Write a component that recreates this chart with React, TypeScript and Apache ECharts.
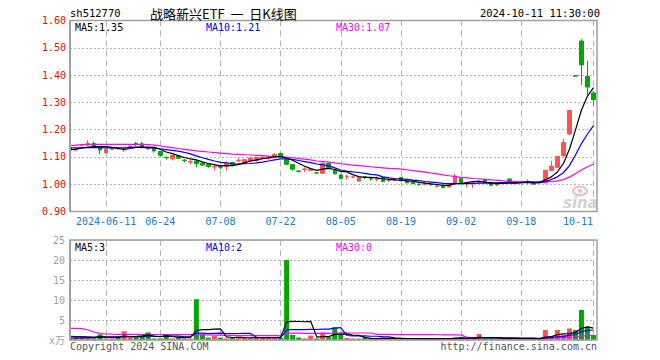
import React, { useEffect, useRef } from 'react';
import * as echarts from 'echarts';

const dates = [
  '2024-05-31',
  '2024-06-03', '2024-06-04', '2024-06-05', '2024-06-06', '2024-06-07',
  '2024-06-11', '2024-06-12', '2024-06-13', '2024-06-14',
  '2024-06-17', '2024-06-18', '2024-06-19', '2024-06-20', '2024-06-21',
  '2024-06-24', '2024-06-25', '2024-06-26', '2024-06-27', '2024-06-28',
  '2024-07-01', '2024-07-02', '2024-07-03', '2024-07-04', '2024-07-05',
  '2024-07-08', '2024-07-09', '2024-07-10', '2024-07-11', '2024-07-12',
  '2024-07-15', '2024-07-16', '2024-07-17', '2024-07-18', '2024-07-19',
  '2024-07-22', '2024-07-23', '2024-07-24', '2024-07-25', '2024-07-26',
  '2024-07-29', '2024-07-30', '2024-07-31', '2024-08-01', '2024-08-02',
  '2024-08-05', '2024-08-06', '2024-08-07', '2024-08-08', '2024-08-09',
  '2024-08-12', '2024-08-13', '2024-08-14', '2024-08-15', '2024-08-16',
  '2024-08-19', '2024-08-20', '2024-08-21', '2024-08-22', '2024-08-23',
  '2024-08-26', '2024-08-27', '2024-08-28', '2024-08-29', '2024-08-30',
  '2024-09-02', '2024-09-03', '2024-09-04', '2024-09-05', '2024-09-06',
  '2024-09-09', '2024-09-10', '2024-09-11', '2024-09-12', '2024-09-13',
  '2024-09-18', '2024-09-19', '2024-09-20',
  '2024-09-23', '2024-09-24', '2024-09-25', '2024-09-26', '2024-09-27',
  '2024-09-30',
  '2024-10-08', '2024-10-09', '2024-10-10', '2024-10-11',
];

const tickDates = ['2024-06-11', '2024-06-24', '2024-07-08', '2024-07-22', '2024-08-05', '2024-08-19', '2024-09-02', '2024-09-18', '2024-10-11'];

const opens = [
  1.135, 1.125, 1.143, 1.144, 1.15, 1.137, 1.115, 1.128, 1.132, 1.125,
  1.138, 1.15, 1.148, 1.131, 1.13, 1.12, 1.099, 1.093, 1.103, 1.088,
  1.081, 1.085, 1.078, 1.073, 1.063, 1.065, 1.065, 1.08, 1.086, 1.077,
  1.085, 1.086, 1.095, 1.094, 1.097, 1.113, 1.09, 1.072, 1.048, 1.054,
  1.05, 1.042, 1.04, 1.076, 1.052, 1.034, 1.027, 1.026, 1.011, 1.027,
  1.02, 1.018, 1.025, 1.014, 1.015, 1.025, 1.012, 1.008, 1.0, 1.0,
  1.0, 0.992, 0.996, 0.99, 1.007, 1.021, 1.005, 1.006, 1.005, 1.017,
  1.005, 1.0, 1.004, 1.019, 1.006, 1.007, 1.008, 1.002, 1.009, 1.005,
  1.05, 1.062, 1.105, 1.184, 1.398, 1.525, 1.395, 1.334,
];
const closes = [
  1.125, 1.13, 1.145, 1.15, 1.14, 1.125, 1.128, 1.13, 1.13, 1.128,
  1.14, 1.148, 1.135, 1.13, 1.122, 1.106, 1.097, 1.105, 1.095, 1.087,
  1.083, 1.075, 1.07, 1.065, 1.065, 1.062, 1.077, 1.072, 1.088, 1.09,
  1.096, 1.098, 1.099, 1.1, 1.11, 1.1, 1.073, 1.055, 1.047, 1.056,
  1.055, 1.041, 1.076, 1.06, 1.038, 1.02, 1.029, 1.027, 1.024, 1.026,
  1.019, 1.02, 1.01, 1.016, 1.017, 1.013, 1.005, 1.002, 0.999, 1.002,
  0.998, 0.994, 0.988, 1.0, 1.029, 1.006, 1.006, 1.008, 1.007, 1.008,
  0.996, 0.998, 1.006, 1.01, 1.008, 1.009, 1.01, 1.001, 1.007, 1.051,
  1.066, 1.102, 1.153, 1.27, 1.396, 1.437, 1.356, 1.31,
];
const lows = [
  1.12, 1.12, 1.14, 1.14, 1.134, 1.11, 1.113, 1.125, 1.127, 1.118,
  1.135, 1.14, 1.13, 1.127, 1.115, 1.1, 1.09, 1.087, 1.093, 1.08,
  1.072, 1.062, 1.067, 1.06, 1.05, 1.055, 1.05, 1.07, 1.08, 1.076,
  1.083, 1.083, 1.092, 1.09, 1.095, 1.098, 1.07, 1.05, 1.043, 1.045,
  1.047, 1.038, 1.038, 1.057, 1.036, 1.018, 1.016, 1.022, 1.01, 1.019,
  1.013, 1.01, 1.009, 1.008, 1.011, 1.012, 1.004, 1.001, 0.995, 0.995,
  0.995, 0.988, 0.985, 0.988, 1.005, 1.004, 0.988, 0.985, 1.002, 1.006,
  0.993, 0.994, 1.002, 1.008, 1.004, 1.003, 1.0, 0.998, 1.004, 1.003,
  1.048, 1.06, 1.1, 1.18, 1.396, 1.364, 1.328, 1.287,
];
const highs = [
  1.14, 1.135, 1.148, 1.161, 1.155, 1.14, 1.13, 1.133, 1.135, 1.13,
  1.142, 1.155, 1.155, 1.133, 1.13, 1.121, 1.1, 1.107, 1.105, 1.092,
  1.09, 1.086, 1.08, 1.075, 1.07, 1.07, 1.083, 1.082, 1.095, 1.092,
  1.1, 1.1, 1.102, 1.103, 1.112, 1.115, 1.093, 1.073, 1.052, 1.062,
  1.058, 1.045, 1.08, 1.078, 1.055, 1.036, 1.035, 1.03, 1.026, 1.03,
  1.023, 1.028, 1.027, 1.02, 1.02, 1.026, 1.013, 1.01, 1.002, 1.008,
  1.004, 0.996, 0.998, 1.002, 1.039, 1.022, 1.01, 1.012, 1.009, 1.018,
  1.006, 1.004, 1.008, 1.021, 1.01, 1.012, 1.018, 1.005, 1.012, 1.052,
  1.086, 1.104, 1.167, 1.273, 1.398, 1.531, 1.452, 1.34,
];

const ma5 = [
  1.127, 1.128, 1.133, 1.136, 1.138, 1.138, 1.138, 1.135, 1.131, 1.128,
  1.131, 1.135, 1.136, 1.136, 1.135, 1.128, 1.118, 1.112, 1.105, 1.098,
  1.093, 1.089, 1.082, 1.076, 1.072, 1.067, 1.068, 1.068, 1.073, 1.078,
  1.085, 1.089, 1.094, 1.097, 1.101, 1.101, 1.096, 1.088, 1.077, 1.066,
  1.057, 1.051, 1.055, 1.058, 1.054, 1.047, 1.045, 1.035, 1.028, 1.025,
  1.025, 1.023, 1.02, 1.018, 1.016, 1.015, 1.012, 1.011, 1.007, 1.004,
  1.001, 0.999, 0.996, 0.996, 1.002, 1.003, 1.006, 1.01, 1.011, 1.007,
  1.005, 1.003, 1.003, 1.004, 1.004, 1.006, 1.009, 1.008, 1.007, 1.016,
  1.027, 1.045, 1.076, 1.128, 1.198, 1.272, 1.323, 1.354,
];
const ma10 = [
  1.132, 1.133, 1.133, 1.134, 1.134, 1.134, 1.133, 1.133, 1.133, 1.133,
  1.135, 1.136, 1.135, 1.133, 1.132, 1.13, 1.127, 1.124, 1.121, 1.117,
  1.111, 1.104, 1.097, 1.091, 1.085, 1.08, 1.078, 1.075, 1.074, 1.075,
  1.076, 1.078, 1.081, 1.085, 1.089, 1.093, 1.093, 1.091, 1.087, 1.083,
  1.079, 1.074, 1.071, 1.067, 1.06, 1.052, 1.048, 1.045, 1.043, 1.04,
  1.036, 1.034, 1.027, 1.023, 1.021, 1.02, 1.018, 1.015, 1.013, 1.01,
  1.008, 1.006, 1.003, 1.002, 1.003, 1.002, 1.002, 1.003, 1.004, 1.004,
  1.004, 1.005, 1.006, 1.007, 1.005, 1.006, 1.006, 1.005, 1.005, 1.01,
  1.017, 1.027, 1.042, 1.068, 1.107, 1.149, 1.184, 1.215,
];
const ma30 = [
  1.141, 1.143, 1.145, 1.146, 1.146, 1.146, 1.146, 1.146, 1.146, 1.146,
  1.146, 1.146, 1.146, 1.145, 1.143, 1.14, 1.137, 1.134, 1.131, 1.128,
  1.125, 1.122, 1.12, 1.118, 1.116, 1.114, 1.112, 1.11, 1.109, 1.108,
  1.107, 1.106, 1.105, 1.103, 1.102, 1.101, 1.099, 1.097, 1.094, 1.092,
  1.089, 1.085, 1.083, 1.081, 1.078, 1.075, 1.073, 1.07, 1.068, 1.066,
  1.064, 1.062, 1.06, 1.058, 1.057, 1.055, 1.053, 1.05, 1.047, 1.044,
  1.041, 1.038, 1.034, 1.031, 1.028, 1.025, 1.023, 1.021, 1.02, 1.018,
  1.016, 1.015, 1.012, 1.011, 1.01, 1.009, 1.009, 1.008, 1.007, 1.008,
  1.01, 1.012, 1.017, 1.026, 1.038, 1.052, 1.064, 1.074,
];

const volumes = [
  0.4, 0.8, 0.6, 0.8, 0.4, 1.4, 0.4, 0.4, 0.6, 2.2,
  0.6, 0.8, 1.0, 1.9, 0.3, 0.4, 1.5, 0.4, 0.5, 0.4,
  0.4, 10.2, 1.4, 0.6, 1.0, 0.6, 0.4, 0.5, 0.8, 0.6,
  0.4, 0.6, 0.6, 0.8, 0.7, 0.5, 20.0, 1.3, 0.6, 0.4,
  1.1, 0.3, 1.7, 0.7, 3.2, 1.5, 0.5, 0.3, 0.3, 0.6,
  0.3, 0.3, 0.6, 0.35, 0.35, 0.4, 0.3, 0.3, 0.2, 0.4,
  0.3, 0.3, 0.3, 0.4, 0.7, 0.8, 0.3, 0.3, 1.5, 0.4,
  0.4, 0.3, 0.4, 0.4, 0.3, 0.3, 0.3, 0.2, 0.3, 2.5,
  1.0, 2.5, 1.25, 2.9, 2.5, 7.5, 3.3, 1.25,
];
const volMa5 = [
  0.5, 0.5, 0.55, 0.6, 0.6, 0.8, 0.72, 0.68, 0.64, 1.0,
  0.84, 0.92, 1.04, 1.3, 0.92, 0.88, 1.02, 0.9, 0.62, 0.64,
  0.64, 2.38, 2.58, 2.6, 2.72, 2.76, 0.8, 0.62, 0.66, 0.58,
  0.54, 0.58, 0.6, 0.6, 0.62, 0.64, 4.52, 4.66, 4.62, 4.56,
  4.68, 0.74, 0.82, 0.84, 1.4, 1.48, 1.52, 1.24, 1.16, 0.64,
  0.4, 0.36, 0.42, 0.43, 0.38, 0.4, 0.34, 0.33, 0.3, 0.3,
  0.3, 0.3, 0.32, 0.32, 0.4, 0.5, 0.5, 0.48, 0.64, 0.56,
  0.58, 0.58, 0.36, 0.36, 0.34, 0.34, 0.32, 0.28, 0.28, 0.72,
  0.86, 1.32, 1.51, 1.59, 1.89, 2.89, 3.3, 2.97,
];
const volMa10 = [
  0.9, 0.85, 0.85, 0.8, 0.75, 0.8, 0.8, 0.8, 0.8, 0.8,
  0.82, 0.82, 0.86, 0.97, 0.96, 0.86, 0.97, 0.97, 0.96, 0.78,
  0.76, 1.7, 1.74, 1.61, 1.68, 1.7, 1.59, 1.6, 1.63, 1.65,
  1.65, 0.69, 0.61, 0.63, 0.6, 0.59, 2.55, 2.63, 2.61, 2.59,
  2.66, 2.63, 2.74, 2.73, 2.98, 3.08, 1.13, 1.03, 1.0, 1.02,
  0.94, 0.94, 0.83, 0.8, 0.51, 0.4, 0.38, 0.38, 0.37, 0.35,
  0.35, 0.35, 0.32, 0.33, 0.36, 0.4, 0.4, 0.4, 0.53, 0.53,
  0.54, 0.54, 0.55, 0.55, 0.51, 0.46, 0.46, 0.45, 0.33, 0.54,
  0.6, 0.82, 0.91, 1.16, 1.38, 2.1, 2.4, 2.5,
];
const volMa30 = [
  2.9, 2.9, 2.85, 2.5, 2.0, 1.6, 1.5, 1.45, 1.42, 1.4,
  1.4, 1.4, 1.4, 1.4, 1.38, 1.38, 1.38, 1.36, 1.36, 1.35,
  1.35, 1.3, 1.28, 1.25, 1.22, 1.2, 1.15, 1.12, 1.1, 1.08,
  1.08, 1.07, 1.07, 1.07, 1.08, 1.05, 1.7, 1.73, 1.73, 1.67,
  1.69, 1.67, 1.7, 1.66, 1.75, 1.79, 1.76, 1.75, 1.75, 1.75,
  1.75, 1.42, 1.39, 1.39, 1.36, 1.36, 1.35, 1.35, 1.33, 1.32,
  1.32, 1.31, 1.3, 1.28, 1.28, 1.29, 0.64, 0.6, 0.63, 0.63,
  0.61, 0.61, 0.57, 0.56, 0.46, 0.42, 0.41, 0.41, 0.41, 0.47,
  0.5, 0.57, 0.59, 0.68, 0.75, 0.99, 1.09, 1.12,
];

const priceMin = 0.9;
const priceMax = 1.6;
const priceStep = 0.1;
const volMin = 0;
const volMax = 25;
const volStep = 5;

const UP = '#ff5252';
const DOWN = '#00a800';
const MONO = '"DejaVu Sans Mono", "Liberation Mono", monospace';
const GRID_C = '#b4b4b4';
const FRAME_C = '#a0a0a0';

export default function App() {
  const ref = useRef<HTMLDivElement>(null);

  useEffect(() => {
    if (!ref.current) return;
    const chart = echarts.init(ref.current, null, { renderer: 'svg' });

    const isTick = (_i: number, v: string) => tickDates.indexOf(v) >= 0;

    const option: any = {
      animation: false,
      backgroundColor: '#fff',
      grid: [
        { left: 70, top: 20.5, width: 523.5, height: 191 },
        { left: 70, top: 240, width: 523.5, height: 100 },
      ],
      xAxis: [
        {
          type: 'category', gridIndex: 0, data: dates, boundaryGap: false,
          axisLine: { show: false }, axisTick: { show: false },
          axisLabel: {
            interval: isTick, margin: 5, color: '#0a7fd6', fontFamily: MONO, fontSize: 10,
            formatter: (v: string) => v === tickDates[0] ? v : (v === tickDates[tickDates.length - 1] ? '{r|' + v.slice(5) + '}' : v.slice(5)),
            rich: { r: { padding: [0, 31, 0, 0], color: '#0a7fd6', fontFamily: MONO, fontSize: 10 } },
          },
          splitLine: { show: true, interval: isTick, lineStyle: { color: GRID_C, type: [6, 4], width: 1 } },
        },
        {
          type: 'category', gridIndex: 1, data: dates, boundaryGap: false,
          axisLine: { show: false }, axisTick: { show: false }, axisLabel: { show: false },
          splitLine: { show: true, interval: isTick, lineStyle: { color: GRID_C, type: [6, 4], width: 1 } },
        },
      ],
      yAxis: [
        {
          type: 'value', gridIndex: 0, min: priceMin, max: priceMax, interval: priceStep,
          axisLine: { show: false }, axisTick: { show: false },
          axisLabel: { margin: 4, color: '#ff0000', fontFamily: MONO, fontSize: 10, formatter: (v: number) => v.toFixed(2) },
          splitLine: { show: true, lineStyle: { color: GRID_C, type: [2, 2], width: 1 } },
        },
        {
          type: 'value', gridIndex: 1, min: volMin, max: volMax, interval: volStep,
          axisLine: { show: false }, axisTick: { show: false },
          axisLabel: { margin: 5, color: '#a0a0a0', fontFamily: MONO + ', "Noto Sans CJK SC"', fontSize: 10, formatter: (v: number) => (v === 0 ? 'x万' : String(v)) },
          splitLine: { show: true, lineStyle: { color: GRID_C, type: [2, 2], width: 1 } },
        },
      ],
      series: [
        {
          type: 'candlestick', xAxisIndex: 0, yAxisIndex: 0, clip: false, barWidth: 4,
          data: dates.map((_, i) => [opens[i], closes[i], lows[i], highs[i]]),
          itemStyle: { color: UP, color0: DOWN, borderColor: UP, borderColor0: DOWN, borderWidth: 1 },
        },
        { type: 'line', xAxisIndex: 0, yAxisIndex: 0, data: ma30, symbol: 'none', lineStyle: { color: '#ff00ff', width: 1.2 }, itemStyle: { color: '#ff00ff' } },
        { type: 'line', xAxisIndex: 0, yAxisIndex: 0, data: ma10, symbol: 'none', lineStyle: { color: '#0000ff', width: 1.2 }, itemStyle: { color: '#0000ff' } },
        { type: 'line', xAxisIndex: 0, yAxisIndex: 0, data: ma5, symbol: 'none', lineStyle: { color: '#000000', width: 1.2 }, itemStyle: { color: '#000' } },
        {
          type: 'bar', xAxisIndex: 1, yAxisIndex: 1, clip: false, barWidth: 5, barMinHeight: 1.5,
          data: volumes,
          itemStyle: { color: (p: any) => (closes[p.dataIndex] > opens[p.dataIndex] ? UP : DOWN) },
        },
        { type: 'line', xAxisIndex: 1, yAxisIndex: 1, data: volMa30, symbol: 'none', lineStyle: { color: '#ff00ff', width: 1.2 }, itemStyle: { color: '#ff00ff' } },
        { type: 'line', xAxisIndex: 1, yAxisIndex: 1, data: volMa10, symbol: 'none', lineStyle: { color: '#0000ff', width: 1.2 }, itemStyle: { color: '#0000ff' } },
        { type: 'line', xAxisIndex: 1, yAxisIndex: 1, data: volMa5, symbol: 'none', lineStyle: { color: '#000000', width: 1.2 }, itemStyle: { color: '#000' } },
      ],
      graphic: [
        { type: 'rect', z: 99, shape: { x: 66.5, y: 16, width: 3, height: 200 }, style: { fill: '#fff' } },
        { type: 'rect', z: 99, shape: { x: 66.5, y: 236, width: 3, height: 108 }, style: { fill: '#fff' } },
        { type: 'rect', z: 100, shape: { x: 70, y: 20.5, width: 527, height: 191 }, style: { fill: 'none', stroke: FRAME_C, lineWidth: 1.5 } },
        { type: 'rect', z: 100, shape: { x: 70, y: 240, width: 527, height: 100 }, style: { fill: 'none', stroke: FRAME_C, lineWidth: 1.5 } },
        { type: 'line', z: 100, shape: { x1: 70, y1: 20.5, x2: 70, y2: 211.5 }, style: { stroke: FRAME_C, lineWidth: 2 } },
        { type: 'line', z: 100, shape: { x1: 70, y1: 240, x2: 70, y2: 340 }, style: { stroke: FRAME_C, lineWidth: 2 } },
        { type: 'text', z: 100, style: { x: 70, y: 13, text: 'sh512770', fill: '#000', font: '10.5px ' + MONO, verticalAlign: 'middle' } },
        { type: 'text', z: 100, style: { x: 150, y: 13, text: '战略新兴ETF  一  日K线图', fill: '#000', font: '13px "Noto Sans CJK SC"', verticalAlign: 'middle' } },
        { type: 'text', z: 100, style: { x: 600, y: 13, text: '2024-10-11 11:30:00', fill: '#000', font: '10.5px ' + MONO, align: 'right', verticalAlign: 'middle' } },
        { type: 'text', z: 100, style: { x: 75, y: 27, text: 'MA5:1.35', fill: '#000', font: '10px ' + MONO, verticalAlign: 'middle' } },
        { type: 'text', z: 100, style: { x: 206, y: 27, text: 'MA10:1.21', fill: '#0000ff', font: '10px ' + MONO, verticalAlign: 'middle' } },
        { type: 'text', z: 100, style: { x: 336, y: 27, text: 'MA30:1.07', fill: '#ff00ff', font: '10px ' + MONO, verticalAlign: 'middle' } },
        { type: 'text', z: 100, style: { x: 75, y: 247, text: 'MA5:3', fill: '#000', font: '10px ' + MONO, verticalAlign: 'middle' } },
        { type: 'text', z: 100, style: { x: 206, y: 247, text: 'MA10:2', fill: '#0000ff', font: '10px ' + MONO, verticalAlign: 'middle' } },
        { type: 'text', z: 100, style: { x: 336, y: 247, text: 'MA30:0', fill: '#ff00ff', font: '10px ' + MONO, verticalAlign: 'middle' } },
        { type: 'text', z: 100, style: { x: 70, y: 346, text: 'Copyright 2024 SINA.COM', fill: '#555', font: '10px ' + MONO, verticalAlign: 'middle' } },
        { type: 'text', z: 100, style: { x: 597, y: 346, text: 'http://finance.sina.com.cn', fill: '#555', font: '10px ' + MONO, align: 'right', verticalAlign: 'middle' } },
        { type: 'ellipse', z: 50, shape: { cx: 580, cy: 191, rx: 7, ry: 4.5 }, style: { fill: 'none', stroke: '#f3b9b9', lineWidth: 2 } },
        { type: 'circle', z: 50, shape: { cx: 580, cy: 191, r: 2 }, style: { fill: '#f3b9b9' } },
        { type: 'text', z: 50, style: { x: 563, y: 203, text: 'sina', fill: '#d4d4d4', font: 'italic bold 15px "DejaVu Sans"', verticalAlign: 'middle' } },
      ],
    };

    chart.setOption(option);
    return () => chart.dispose();
  }, []);

  return <div ref={ref} style={{ position: 'absolute', left: 0, top: 0, width: 660, height: 360 }} />;
}
